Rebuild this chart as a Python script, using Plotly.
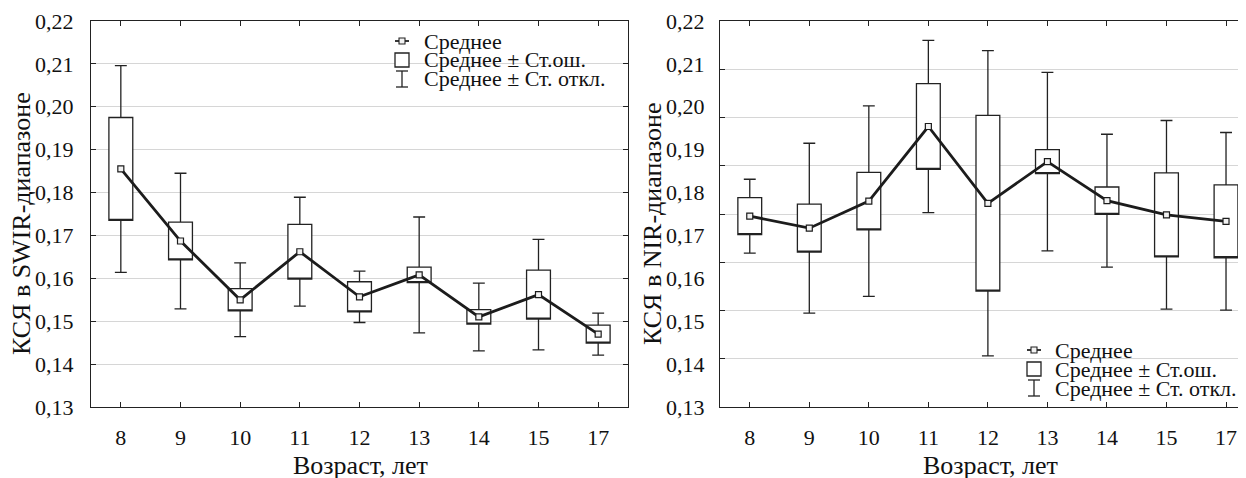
import plotly.graph_objects as go

ages = ["8", "9", "10", "11", "12", "13", "14", "15", "17"]

swir_mean = [0.1855, 0.1687, 0.1550, 0.1662, 0.1557, 0.1608, 0.1510, 0.1562, 0.1470]
swir_se = [0.0120, 0.0044, 0.0026, 0.0064, 0.0035, 0.0018, 0.0017, 0.0057, 0.0021]
swir_sd = [0.0241, 0.0158, 0.0086, 0.0127, 0.0060, 0.0135, 0.0079, 0.0129, 0.0049]

nir_mean = [0.1745, 0.1717, 0.1780, 0.1954, 0.1775, 0.1872, 0.1781, 0.1748, 0.1733]
nir_se = [0.0043, 0.0056, 0.0067, 0.0100, 0.0205, 0.0028, 0.0032, 0.0098, 0.0085]
nir_sd = [0.0086, 0.0198, 0.0222, 0.0201, 0.0356, 0.0208, 0.0155, 0.0220, 0.0207]

y_ticks = [0.13, 0.14, 0.15, 0.16, 0.17, 0.18, 0.19, 0.20, 0.21, 0.22]

legend_labels = ["Среднее", "Среднее ± Ст.ош.", "Среднее ± Ст. откл."]

FONT = "Liberation Serif"
INK = "#222222"
GRID = "#d6d6d6"
W, H = 1246, 478
OFF = 8  # page body margin


def px(x):
    return (x - OFF) / W


def py(y):
    return 1 - (y - OFF) / H


fig = go.Figure()


def add_panel(mean, se, sd, xa, ya):
    q1 = [m - s for m, s in zip(mean, se)]
    q3 = [m + s for m, s in zip(mean, se)]
    lo = [m - d for m, d in zip(mean, sd)]
    hi = [m + d for m, d in zip(mean, sd)]
    fig.add_trace(go.Box(
        x=ages, q1=q1, q3=q3, median=q1, lowerfence=lo, upperfence=hi,
        fillcolor="white", line=dict(color=INK, width=1.3),
        whiskerwidth=0.5, width=0.4, boxpoints=False,
        showlegend=False, hoverinfo="skip", xaxis=xa, yaxis=ya,
    ))
    fig.add_trace(go.Scatter(
        x=ages, y=mean, mode="lines+markers",
        line=dict(color="#1c1c1c", width=2.8),
        marker=dict(symbol="square", size=6, color="#f2f2f2",
                    line=dict(color="#1c1c1c", width=1.2)),
        showlegend=False, xaxis=xa, yaxis=ya,
    ))


add_panel(swir_mean, swir_se, swir_sd, "x", "y")
add_panel(nir_mean, nir_se, nir_sd, "x2", "y2")
# overlay axis used only for the right panel's gridlines / tick marks
fig.add_trace(go.Scatter(x=[None], y=[None], xaxis="x2", yaxis="y3",
                         showlegend=False, hoverinfo="skip"))

ydom = [py(407), py(21)]
common_x = dict(
    type="category", showline=True, linecolor=INK, linewidth=1.4,
    mirror="ticks", ticks="inside", ticklen=5, tickcolor=INK, tickwidth=1,
    showgrid=False, zeroline=False, automargin=False,
    tickfont=dict(family=FONT, size=22, color="#111"), ticklabelstandoff=10,
)
fig.update_layout(
    width=W, height=H, margin=dict(l=0, r=0, t=0, b=0),
    paper_bgcolor="white", plot_bgcolor="white",
    separators=", ", showlegend=False,
    font=dict(family=FONT, color="#111"),
    xaxis=dict(domain=[px(91), px(628)], range=[-0.5, 8.5], anchor="y", **common_x),
    xaxis2=dict(domain=[px(720), 1.0], range=[-0.5, 8.47], anchor="y2", **common_x),
    yaxis=dict(
        domain=ydom, range=[0.13, 0.22], tickvals=y_ticks, tickformat=".2f",
        showline=True, linecolor=INK, linewidth=1.4, mirror="ticks",
        ticks="inside", ticklen=5, tickcolor=INK, showgrid=True,
        gridcolor=GRID, gridwidth=1, zeroline=False, automargin=False,
        tickfont=dict(family=FONT, size=22, color="#111"), ticklabelstandoff=12,
        anchor="x",
    ),
    yaxis2=dict(
        domain=ydom, range=[0.13, 0.22], tickvals=y_ticks, tickformat=".2f",
        showline=True, linecolor=INK, linewidth=1.4, mirror=False,
        ticks="", showgrid=False, zeroline=False, automargin=False,
        tickfont=dict(family=FONT, size=22, color="#111"), ticklabelstandoff=10,
        anchor="x2",
    ),
    yaxis3=dict(
        domain=ydom, range=[0, 8], dtick=1, tick0=0, overlaying="y2",
        anchor="x2", side="left", showticklabels=False, ticks="inside",
        ticklen=5, tickcolor=INK, showgrid=True, gridcolor=GRID, gridwidth=1,
        showline=False, zeroline=False, automargin=False,
    ),
)

annotations = [
    dict(text="КСЯ в SWIR-диапазоне", x=px(21), y=py(224), textangle=-90),
    dict(text="КСЯ в NIR-диапазоне", x=px(652), y=py(224), textangle=-90),
    dict(text="Возраст, лет", x=px(360), y=py(465)),
    dict(text="Возраст, лет", x=px(990), y=py(465)),
]
for a in annotations:
    fig.add_annotation(xref="paper", yref="paper", showarrow=False,
                       xanchor="center", yanchor="middle",
                       font=dict(family=FONT, size=26, color="#111"), **a)

shapes = []


def add_legend(sx, text_x, rows):
    r0, r1, r2 = rows
    line = dict(color=INK, width=1.3)
    shapes.append(dict(type="line", xref="paper", yref="paper",
                       x0=px(sx - 7), x1=px(sx + 7), y0=py(r0), y1=py(r0),
                       line=dict(color=INK, width=1.8)))
    shapes.append(dict(type="rect", xref="paper", yref="paper",
                       x0=px(sx - 3), x1=px(sx + 3), y0=py(r0 - 3), y1=py(r0 + 3),
                       line=dict(color=INK, width=1.1), fillcolor="#f2f2f2"))
    shapes.append(dict(type="rect", xref="paper", yref="paper",
                       x0=px(sx - 7), x1=px(sx + 7), y0=py(r1 - 7), y1=py(r1 + 7),
                       line=line, fillcolor="white"))
    shapes.append(dict(type="line", xref="paper", yref="paper",
                       x0=px(sx), x1=px(sx), y0=py(r2 - 8), y1=py(r2 + 8), line=line))
    shapes.append(dict(type="line", xref="paper", yref="paper",
                       x0=px(sx - 6), x1=px(sx + 6), y0=py(r2 - 8), y1=py(r2 - 8), line=line))
    shapes.append(dict(type="line", xref="paper", yref="paper",
                       x0=px(sx - 6), x1=px(sx + 6), y0=py(r2 + 8), y1=py(r2 + 8), line=line))
    for lab, r in zip(legend_labels, rows):
        fig.add_annotation(xref="paper", yref="paper", showarrow=False,
                           x=px(text_x), y=py(r), xanchor="left", yanchor="middle",
                           text=lab, font=dict(family=FONT, size=22, color="#111"))


add_legend(402, 422, [41, 60, 79])
add_legend(1034, 1053, [350, 369, 388])

fig.update_layout(shapes=shapes)
fig.write_html("out.html")
